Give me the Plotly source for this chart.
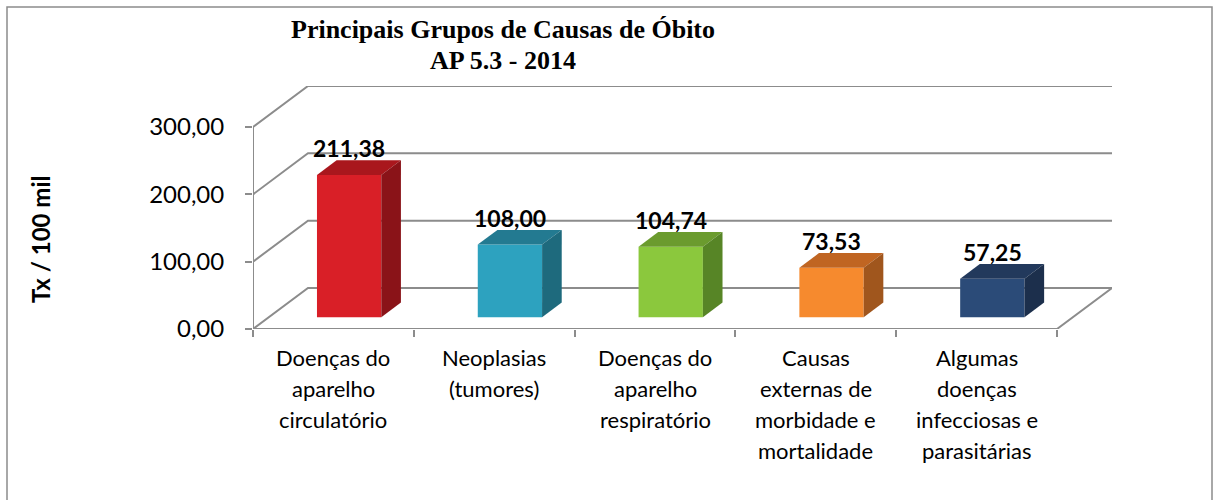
import plotly.graph_objects as go

# ---- data ----
categories = [
    "Doenças do<br>aparelho<br>circulatório",
    "Neoplasias<br>(tumores)",
    "Doenças do<br>aparelho<br>respiratório",
    "Causas<br>externas de<br>morbidade e<br>mortalidade",
    "Algumas<br>doenças<br>infecciosas e<br>parasitárias",
]
values = [211.38, 108.00, 104.74, 73.53, 57.25]
value_labels = ["211,38", "108,00", "104,74", "73,53", "57,25"]
y_ticks = [0, 100, 200, 300]
y_tick_labels = ["0,00", "100,00", "200,00", "300,00"]
title_lines = ["Principais Grupos de Causas de Óbito", "AP 5.3 - 2014"]
y_title = "Tx / 100 mil"

front_colors = ["#D91F27", "#2DA2BF", "#8BC83D", "#F68A2E", "#2B4B78"]
top_colors = ["#A9171D", "#237A91", "#6B9B2E", "#C06522", "#22395C"]
side_colors = ["#8A1318", "#1E6A7D", "#578526", "#A0561D", "#1C2F4C"]

# ---- 3D geometry (styling) ----
DX = 0.342   # depth in category units
DY = 61.0    # depth in value units
F0, F1 = 0.286, 0.643  # bar front/back position as fraction of depth
BW = 0.40    # bar width in category units
GRID = "#8C8C8C"
FONT = "Lato"
LABEL_LINE = 31  # px between category label lines

W, H = 1218, 500
ML, MR, MT, MB = 253, 106, 86, 171
PW, PH = W - ML - MR, H - MT - MB


def px_x(p):
    return (p - ML) / PW


def px_y(p):
    return (H - MB - p) / PH


n = len(values)
ymax = max(y_ticks)
fig = go.Figure()

# grid lines on wall
for v in y_ticks:
    fig.add_trace(go.Scatter(
        x=[-0.5, -0.5 + DX, n - 0.5 + DX],
        y=[v, v + DY, v + DY],
        mode="lines", line=dict(color=GRID, width=2),
        hoverinfo="skip", showlegend=False))
# front axis line
fig.add_trace(go.Scatter(x=[-0.5, -0.5], y=[0, ymax], mode="lines",
                         line=dict(color=GRID, width=2),
                         hoverinfo="skip", showlegend=False))
# floor edges
fig.add_trace(go.Scatter(x=[-0.5, n - 0.5, n - 0.5 + DX], y=[0, 0, DY],
                         mode="lines", line=dict(color=GRID, width=2),
                         hoverinfo="skip", showlegend=False))

ddx = (F1 - F0) * DX
ddy = (F1 - F0) * DY
annotations = []
for i, v in enumerate(values):
    xc = i + F0 * DX
    xl, xr = xc - BW / 2, xc + BW / 2
    yb = F0 * DY
    yt = yb + v
    faces = [
        ([xl, xr, xr, xl, xl], [yb, yb, yt, yt, yb], front_colors[i]),
        ([xl, xr, xr + ddx, xl + ddx, xl], [yt, yt, yt + ddy, yt + ddy, yt], top_colors[i]),
        ([xr, xr + ddx, xr + ddx, xr, xr], [yb, yb + ddy, yt + ddy, yt, yb], side_colors[i]),
    ]
    for fx, fy, col in faces:
        fig.add_trace(go.Scatter(x=fx, y=fy, fill="toself", fillcolor=col,
                                 mode="lines", line=dict(width=0, color=col),
                                 hoverinfo="skip", showlegend=False))
    annotations.append(dict(x=xc, y=yt + ddy, xref="x", yref="y",
                            text=value_labels[i], showarrow=False,
                            xanchor="center", yanchor="bottom", yshift=-4,
                            font=dict(family=FONT, size=23, color="#000000", weight="bold")))
    for k, line in enumerate(categories[i].split("<br>")):
        annotations.append(dict(x=i, y=0, xref="x", yref="y", text=line,
                                showarrow=False, xanchor="center", yanchor="middle",
                                yshift=-28 - LABEL_LINE * k,
                                font=dict(family=FONT, size=22, color="#000000")))

# title (two lines)
for k, (line, cy) in enumerate(zip(title_lines, [30, 60])):
    annotations.append(dict(x=px_x(503), y=px_y(cy), xref="paper", yref="paper",
                            text="<b>" + line + "</b>", showarrow=False,
                            xanchor="center", yanchor="middle",
                            font=dict(family="Liberation Serif", size=26, color="#000000")))
# y title
annotations.append(dict(x=px_x(40), y=px_y(240), xref="paper", yref="paper",
                        text="<b>" + y_title + "</b>", textangle=-90, showarrow=False,
                        xanchor="center", yanchor="middle",
                        font=dict(family=FONT, size=24, color="#000000")))

fig.update_layout(
    width=W, height=H,
    margin=dict(l=ML, r=MR, t=MT, b=MB),
    paper_bgcolor="white", plot_bgcolor="white",
    showlegend=False,
    annotations=annotations,
    xaxis=dict(range=[-0.5, n - 0.5 + DX], showgrid=False, zeroline=False,
               showline=False, tickvals=[k - 0.5 for k in range(n + 1)],
               ticktext=[""] * (n + 1), ticks="outside", ticklen=7,
               tickwidth=2, tickcolor=GRID, fixedrange=True),
    yaxis=dict(range=[0, ymax + DY], showgrid=False, zeroline=False,
               showline=False, tickvals=y_ticks, ticktext=y_tick_labels,
               ticks="outside", ticklen=7, tickwidth=2, tickcolor=GRID,
               ticklabelstandoff=16,
               tickfont=dict(family=FONT, size=24, color="#000000"),
               fixedrange=True),
    shapes=[dict(type="rect", xref="paper", yref="paper",
                 x0=px_x(7), x1=px_x(1212),
                 y0=px_y(520), y1=px_y(7),
                 line=dict(color="#8C8C8C", width=1.5), fillcolor="rgba(0,0,0,0)",
                 layer="below")],
)

fig.write_html(
    "out.html",
    config={"displayModeBar": False},
    post_script="document.body.style.margin='0';document.body.style.overflow='hidden';",
)
